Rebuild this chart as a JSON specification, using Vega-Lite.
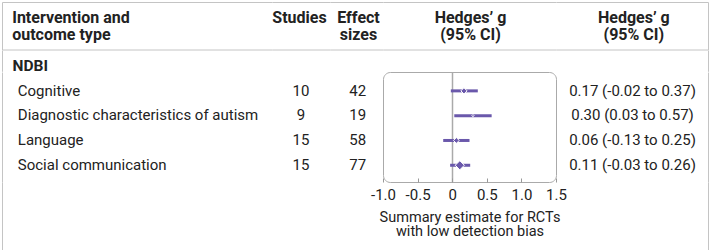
{
  "$schema": "https://vega.github.io/schema/vega-lite/v6.json",
  "padding": 1,
  "background": "white",
  "columns": 5,
  "spacing": 0,
  "bounds": "flush",
  "align": "each",
  "datasets": {
    "rows": [
      {"intervention": "NDBI", "outcome": "Cognitive", "studies": 10, "effect_sizes": 42, "g": 0.17, "lo": -0.02, "hi": 0.37, "ci_text": "0.17 (-0.02 to 0.37)", "weight": 24},
      {"intervention": "NDBI", "outcome": "Diagnostic characteristics of autism", "studies": 9, "effect_sizes": 19, "g": 0.30, "lo": 0.03, "hi": 0.57, "ci_text": "0.30 (0.03 to 0.57)", "weight": 3},
      {"intervention": "NDBI", "outcome": "Language", "studies": 15, "effect_sizes": 58, "g": 0.06, "lo": -0.13, "hi": 0.25, "ci_text": "0.06 (-0.13 to 0.25)", "weight": 21},
      {"intervention": "NDBI", "outcome": "Social communication", "studies": 15, "effect_sizes": 77, "g": 0.11, "lo": -0.03, "hi": 0.26, "ci_text": "0.11 (-0.03 to 0.26)", "weight": 52}
    ]
  },
  "config": {
    "font": "Roboto",
    "view": {"stroke": null},
    "text": {"fontSize": 15, "color": "#222222"},
    "axis": {"labelOverlap": false, "labelFlush": false, "labelSeparation": -40}
  },
  "concat": [
    {"width": 270, "height": 47.5, "data": {"values": [{"header": "Intervention and\noutcome type"}]},
     "mark": {"type": "text", "align": "left", "dx": -124.8, "dy": -7.5, "fontWeight": "bold", "fontSize": 16, "lineBreak": "\n", "lineHeight": 16.5},
     "encoding": {"text": {"field": "header", "type": "nominal"}},
     "view": {"stroke": "#c4c4c4", "strokeWidth": 1, "strokeDash": [270, 47.5, 317.5]}},
    {"width": 58, "height": 47.5, "data": {"values": [{"header": "Studies\n "}]},
     "mark": {"type": "text", "dx": -1.5, "dy": -7.5, "fontWeight": "bold", "fontSize": 16, "lineBreak": "\n", "lineHeight": 16.5},
     "encoding": {"text": {"field": "header", "type": "nominal"}},
     "view": {"stroke": "#c4c4c4", "strokeWidth": 1, "strokeDash": [58, 47.5]}},
    {"width": 53, "height": 47.5, "data": {"values": [{"header": "Effect\nsizes"}]},
     "mark": {"type": "text", "dx": 2, "dy": -7.5, "fontWeight": "bold", "fontSize": 16, "lineBreak": "\n", "lineHeight": 16.5},
     "encoding": {"text": {"field": "header", "type": "nominal"}},
     "view": {"stroke": "#c4c4c4", "strokeWidth": 1, "strokeDash": [53, 47.5]}},
    {"width": 173, "height": 47.5, "data": {"values": [{"header": "Hedges’ g\n(95% CI)"}]},
     "mark": {"type": "text", "dx": 1, "dy": -7.5, "fontWeight": "bold", "fontSize": 16, "lineBreak": "\n", "lineHeight": 16.5},
     "encoding": {"text": {"field": "header", "type": "nominal"}},
     "view": {"stroke": "#c4c4c4", "strokeWidth": 1, "strokeDash": [173, 47.5]}},
    {"width": 152, "height": 47.5, "data": {"values": [{"header": "Hedges’ g\n(95% CI)"}]},
     "mark": {"type": "text", "dx": 1.8, "dy": -7.5, "fontWeight": "bold", "fontSize": 16, "lineBreak": "\n", "lineHeight": 16.5},
     "encoding": {"text": {"field": "header", "type": "nominal"}},
     "view": {"stroke": "#c4c4c4", "strokeWidth": 1, "strokeDash": [351.5, 47.5]}},

    {"width": 270, "height": 21.3, "data": {"name": "rows"},
     "transform": [{"aggregate": [{"op": "count", "as": "n"}], "groupby": ["intervention"]}],
     "mark": {"type": "text", "align": "left", "dx": -124.5, "dy": 5.6, "fontWeight": "bold", "fontSize": 15.5},
     "encoding": {"text": {"field": "intervention", "type": "nominal"}},
     "view": {"stroke": "#c4c4c4", "strokeWidth": 1, "strokeDash": [0, 561.3, 21.3]}},
    {"width": 58, "height": 21.3, "data": {"values": []}, "mark": "text"},
    {"width": 53, "height": 21.3, "data": {"values": []}, "mark": "text"},
    {"width": 173, "height": 21.3, "data": {"values": []}, "mark": "text"},
    {"width": 152, "height": 21.3, "data": {"values": []}, "mark": "text",
     "view": {"stroke": "#c4c4c4", "strokeWidth": 1, "strokeDash": [0, 152, 21.3, 325.3]}},

    {"width": 270, "height": 110, "data": {"name": "rows"},
     "mark": {"type": "text", "align": "left", "dx": -119.2},
     "encoding": {
       "text": {"field": "outcome", "type": "nominal"},
       "y": {"field": "outcome", "type": "nominal", "axis": null,
             "scale": {"type": "point", "domain": ["Cognitive", "Diagnostic characteristics of autism", "Language", "Social communication"], "padding": 0.718, "align": 0.52}}
     },
     "view": {"stroke": "#c4c4c4", "strokeWidth": 1, "strokeDash": [0, 650, 110]}},
    {"width": 58, "height": 110, "data": {"name": "rows"},
     "mark": {"type": "text"},
     "encoding": {
       "text": {"field": "studies", "type": "quantitative", "format": "d"},
       "y": {"field": "outcome", "type": "nominal", "axis": null,
             "scale": {"type": "point", "domain": ["Cognitive", "Diagnostic characteristics of autism", "Language", "Social communication"], "padding": 0.718, "align": 0.52}}
     }},
    {"width": 53, "height": 110, "data": {"name": "rows"},
     "mark": {"type": "text", "dx": 1.3},
     "encoding": {
       "text": {"field": "effect_sizes", "type": "quantitative", "format": "d"},
       "y": {"field": "outcome", "type": "nominal", "axis": null,
             "scale": {"type": "point", "domain": ["Cognitive", "Diagnostic characteristics of autism", "Language", "Social communication"], "padding": 0.718, "align": 0.52}}
     }},
    {"width": 173, "height": 110, "data": {"name": "rows"},
     "view": {"stroke": "#aaaaaa", "strokeWidth": 1, "cornerRadius": 7},
     "layer": [
       {
         "mark": {"type": "rule", "color": "#6a58ab", "strokeWidth": 3},
         "encoding": {
           "y": {"field": "outcome", "type": "nominal", "axis": null,
                 "scale": {"type": "point", "domain": ["Cognitive", "Diagnostic characteristics of autism", "Language", "Social communication"], "padding": 0.718, "align": 0.53}},
           "x": {"field": "lo", "type": "quantitative", "scale": {"domain": [-1, 1.5], "nice": false, "zero": false},
             "axis": {
               "tickCount": 5,
               "labelExpr": "datum.value == 0 ? '0' : (datum.value < 0 ? '-' + format(-datum.value, '.1f') : format(datum.value, '.1f'))",
               "domain": false,
               "ticks": true,
               "tickSize": -4,
               "tickColor": "#999999",
               "tickWidth": 1,
               "grid": true,
               "gridColor": "#aaaaaa",
               "gridWidth": 1.5,
               "gridOpacity": {"condition": {"test": "datum.value === 0", "value": 1}, "value": 0},
               "labelFont": "Roboto",
               "labelFontSize": 15,
               "labelColor": "#222222",
               "labelPadding": 9,
               "labelFlush": false,
               "labelOverlap": false,
               "labelSeparation": -40,
               "title": ["Summary estimate for RCTs", "with low detection bias"],
               "titleFont": "Roboto",
               "titleFontSize": 14.5,
               "titleFontWeight": "normal",
               "titleColor": "#222222",
               "titleLineHeight": 14.5,
               "titlePadding": 8
             }
           },
           "x2": {"field": "hi"}
         }
       },
       {
         "mark": {"type": "point", "shape": "diamond", "filled": true, "color": "#6a58ab", "stroke": "white", "strokeWidth": 1, "opacity": 1},
         "encoding": {
           "y": {"field": "outcome", "type": "nominal"},
           "x": {"field": "g", "type": "quantitative"},
           "size": {"field": "weight", "type": "quantitative", "scale": {"domain": [0, 100], "range": [0, 160]}, "legend": null}
         }
       }
     ]},
    {"width": 152, "height": 110, "data": {"name": "rows"},
     "mark": {"type": "text", "dx": 0.5},
     "encoding": {
       "text": {"field": "ci_text", "type": "nominal"},
       "y": {"field": "outcome", "type": "nominal", "axis": null,
             "scale": {"type": "point", "domain": ["Cognitive", "Diagnostic characteristics of autism", "Language", "Social communication"], "padding": 0.718, "align": 0.52}}
     },
     "view": {"stroke": "#c4c4c4", "strokeWidth": 1, "strokeDash": [0, 152, 110, 262]}},

    {"width": 270, "height": 68.2, "data": {"values": []}, "mark": "text",
     "view": {"stroke": "#c4c4c4", "strokeWidth": 1, "strokeDash": [0, 338.2, 338.2]}},
    {"width": 58, "height": 68.2, "data": {"values": []}, "mark": "text",
     "view": {"stroke": "#c4c4c4", "strokeWidth": 1, "strokeDash": [0, 126.2, 58, 68.2]}},
    {"width": 53, "height": 68.2, "data": {"values": []}, "mark": "text",
     "view": {"stroke": "#c4c4c4", "strokeWidth": 1, "strokeDash": [0, 121.2, 53, 68.2]}},
    {"width": 173, "height": 68.2, "data": {"values": []}, "mark": "text",
     "view": {"stroke": "#c4c4c4", "strokeWidth": 1, "strokeDash": [0, 241.2, 173, 68.2]}},
    {"width": 152, "height": 68.2, "data": {"values": []}, "mark": "text",
     "view": {"stroke": "#c4c4c4", "strokeWidth": 1, "strokeDash": [0, 152, 220.2, 68.2]}}
  ]
}
